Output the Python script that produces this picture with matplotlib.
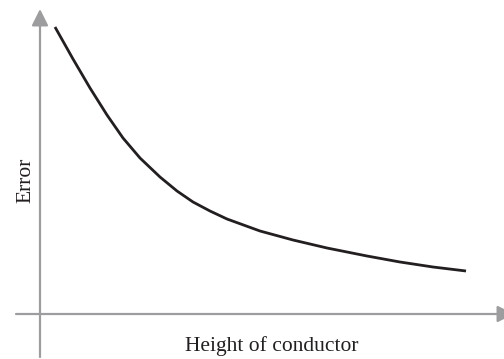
import numpy as np
import matplotlib.pyplot as plt

# conductor height vs. error (arbitrary units)
height = [15, 33, 50, 67, 83, 100, 120, 137, 153, 170, 187, 220, 253, 287, 327, 360, 393, 426]
error = [287, 255, 226, 199, 176, 156, 137, 123, 112, 103, 95, 83, 74, 66, 58, 52, 47, 43]

axis_color = '#9d9d9f'
curve_color = '#231f20'

fig = plt.figure(figsize=(5.04, 3.59), dpi=100)
ax = fig.add_axes([0, 0, 1, 1])
ax.set_xlim(-40, 464)
ax.set_ylim(-45, 314)
ax.axis('off')

# axes drawn as arrows through the origin
arrow = dict(arrowstyle='-|>', mutation_scale=25, color=axis_color, lw=1.6,
             shrinkA=0, shrinkB=0)
ax.annotate('', xy=(0, 305), xytext=(0, -43), arrowprops=arrow)
ax.annotate('', xy=(474, 0), xytext=(-24, 0), arrowprops=arrow, annotation_clip=False)

ax.plot(np.array(height), np.array(error), color=curve_color, lw=2.0,
        solid_capstyle='butt', solid_joinstyle='round')

ax.text(272 - 40, -32, 'Height of conductor', family='Liberation Serif', fontsize=15.5,
        ha='center', va='center', color='#231f20')
ax.text(-14, 134, 'Error', family='Liberation Serif', fontsize=15.5, rotation=90,
        ha='center', va='center', color='#231f20')

fig.savefig('out.png', dpi=100)
